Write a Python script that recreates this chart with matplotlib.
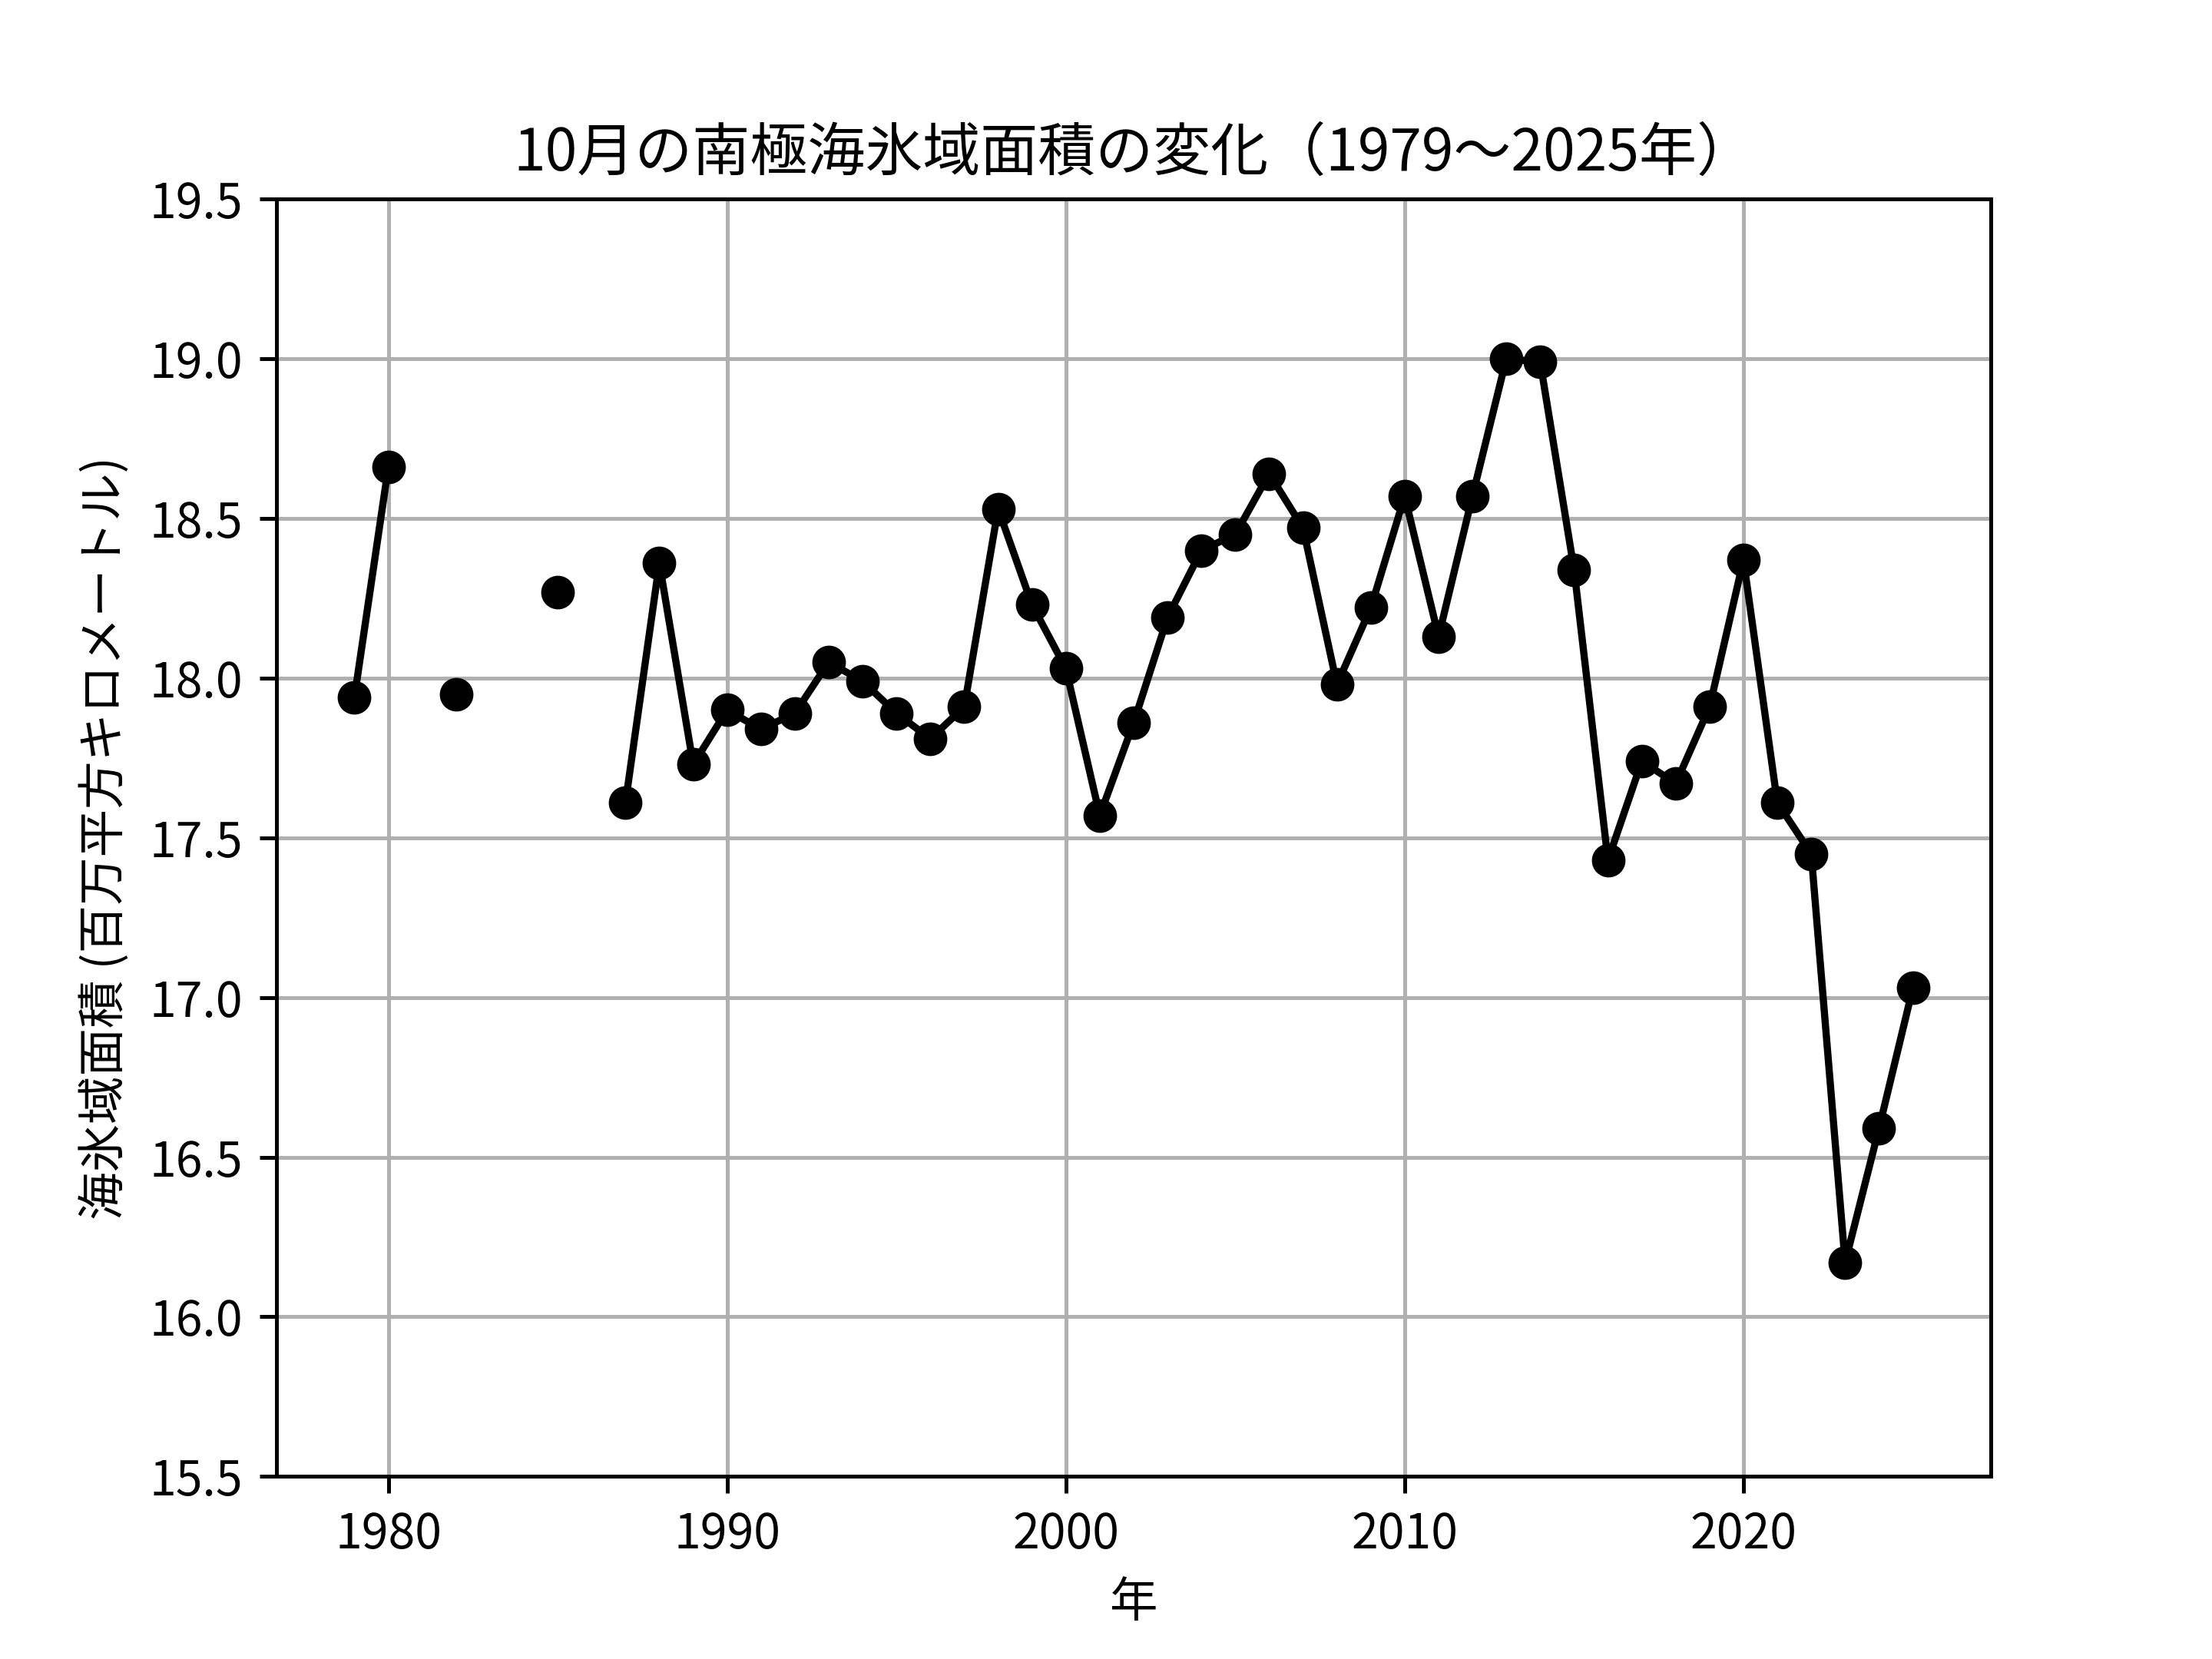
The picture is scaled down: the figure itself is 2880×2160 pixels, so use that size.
import numpy as np
import matplotlib
matplotlib.use('Agg')
import matplotlib.pyplot as plt

plt.rcParams['font.family'] = ['Noto Sans CJK JP', 'DejaVu Sans']

years = list(range(1979, 2026))
# 1981, 1983, 1984, 1986 に値なし
extent = [17.94, 18.66, np.nan, 17.95, np.nan, np.nan, 18.27, np.nan, 17.61, 18.36,
          17.73, 17.90, 17.84, 17.89, 18.05, 17.99, 17.89, 17.81, 17.91, 18.53,
          18.23, 18.03, 17.57, 17.86, 18.19, 18.40, 18.45, 18.64, 18.47, 17.98,
          18.22, 18.57, 18.13, 18.57, 19.00, 18.99, 18.34, 17.43, 17.74, 17.67,
          17.91, 18.37, 17.61, 17.45, 16.17, 16.59, 17.03]

fig, ax = plt.subplots(figsize=(6.4, 4.8))
ax.plot(years, extent, marker='o', color='black')
ax.set_ylim(15.5, 19.5)
ax.set_title('10月の南極海氷域面積の変化（1979〜2025年）')
ax.set_xlabel('年')
ax.set_ylabel('海氷域面積 (百万平方キロメートル)')
ax.grid(True)

plt.savefig('out.png', dpi=450)
